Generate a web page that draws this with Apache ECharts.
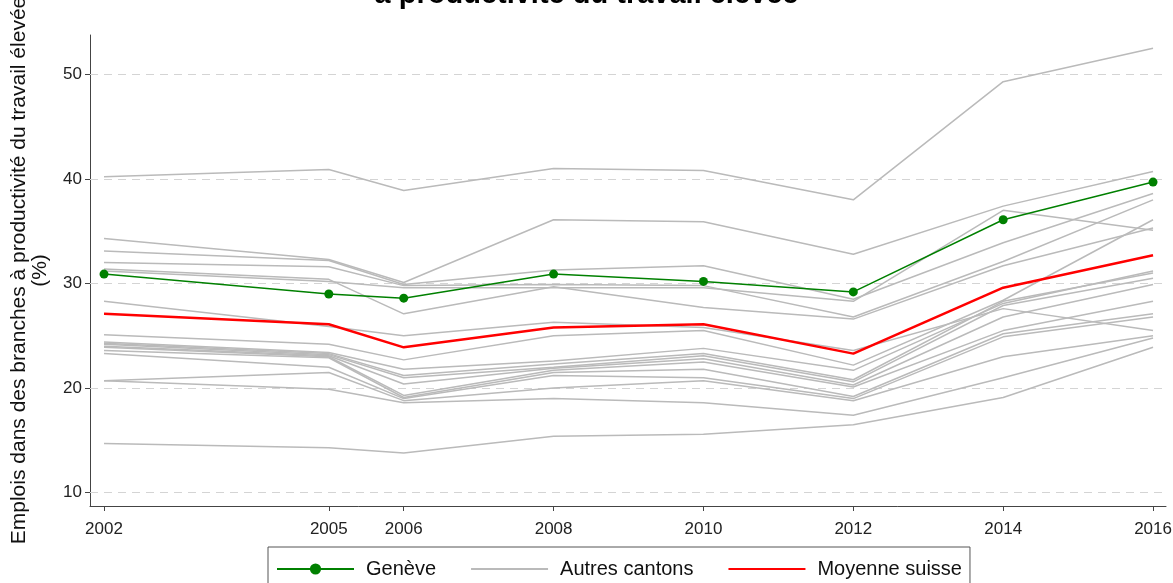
<!DOCTYPE html>
<html>
<head>
<meta charset="utf-8">
<script src="https://cdn.jsdelivr.net/npm/echarts@6/dist/echarts.min.js"></script>
<style>
html,body{margin:0;padding:0;background:#fff;}
#chart{width:1173px;height:583px;}
</style>
</head>
<body>
<div id="chart"></div>
<script>
// ---- data ----
const years = [2002, 2005, 2006, 2008, 2010, 2012, 2014, 2016];
const yTicks = [10, 20, 30, 40, 50];
const geneve  = [30.9, 29.0, 28.6, 30.9, 30.2, 29.2, 36.1, 39.7];
const moyenne = [27.1, 26.1, 23.9, 25.8, 26.1, 23.3, 29.6, 32.7];
const autresCantons = [
  [40.2, 40.9, 38.9, 41.0, 40.8, 38.0, 49.3, 52.5],
  [34.3, 32.3, 30.1, 36.1, 35.9, 32.8, 37.4, 40.7],
  [33.1, 32.2, 29.9, 31.3, 31.7, 28.5, 33.9, 38.6],
  [32.0, 31.6, 29.8, 29.9, 29.8, 26.8, 32.1, 38.0],
  [31.4, 30.4, 27.1, 29.7, 27.7, 26.6, 31.7, 35.3],
  [31.2, 30.2, 29.6, 29.6, 29.6, 28.3, 37.0, 35.1],
  [28.3, 25.9, 25.0, 26.3, 25.8, 23.6, 27.6, 25.5],
  [25.1, 24.2, 22.7, 25.0, 25.5, 22.2, 28.4, 36.1],
  [24.4, 23.4, 21.8, 22.6, 23.8, 21.7, 28.1, 31.2],
  [24.3, 23.3, 21.2, 22.3, 23.3, 20.8, 28.3, 31.0],
  [24.2, 23.2, 21.0, 22.0, 23.1, 20.6, 27.9, 30.5],
  [24.0, 23.1, 20.4, 21.9, 22.8, 20.3, 26.8, 29.9],
  [23.9, 23.0, 19.3, 21.7, 22.5, 20.1, 25.5, 28.3],
  [23.6, 22.9, 19.1, 21.5, 21.8, 19.2, 25.2, 27.1],
  [23.3, 22.0, 19.0, 21.2, 21.0, 19.0, 24.9, 26.8],
  [20.7, 21.5, 18.8, 20.0, 20.7, 18.8, 23.0, 25.0],
  [20.7, 19.9, 18.6, 19.0, 18.6, 17.4, 21.0, 24.8],
  [14.7, 14.3, 13.8, 15.4, 15.6, 16.5, 19.1, 23.9]
];
const titleText = 'à productivité du travail élevée';
const yName = 'Emplois dans des branches à productivité du travail élevée\n(%)';

// ---- chart ----
const chart = echarts.init(document.getElementById('chart'), null, {renderer: 'canvas'});
const pair = arr => years.map((y, i) => [y, arr[i]]);
const FONT = 'Liberation Sans, Arial, sans-serif';

const series = [];
autresCantons.forEach((arr, idx) => {
  series.push({
    name: 'Autres cantons', type: 'line', data: pair(arr),
    symbol: 'none', showSymbol: false, silent: true, z: 2,
    lineStyle: {color: '#bababa', width: 1.5},
    itemStyle: {color: '#bababa'},
    markLine: idx === 0 ? {
      silent: true, symbol: 'none', label: {show: false},
      lineStyle: {color: '#d4d4d4', type: [8, 6], width: 1},
      data: yTicks.map(v => ({yAxis: v})), z: 1
    } : undefined
  });
});
series.push({
  name: 'Moyenne suisse', type: 'line', data: pair(moyenne),
  symbol: 'none', showSymbol: false, z: 4,
  lineStyle: {color: '#ff0000', width: 2.5}, itemStyle: {color: '#ff0000'}
});
series.push({
  name: 'Genève', type: 'line', data: pair(geneve),
  symbol: 'circle', symbolSize: 9, showSymbol: true, z: 5,
  lineStyle: {color: '#008000', width: 1.5}, itemStyle: {color: '#008000'}
});

chart.setOption({
  animation: false,
  backgroundColor: '#ffffff',
  textStyle: {fontFamily: FONT},
  title: {
    text: titleText, left: 'center', top: -25,
    textStyle: {fontFamily: FONT, fontSize: 29, fontWeight: 'bold', color: '#000'}
  },
  grid: {left: 90, right: 7, top: 35, bottom: 77, containLabel: false, outerBoundsMode: 'none'},
  xAxis: {
    type: 'value', min: 2001.813, max: 2016.173,
    axisLine: {show: true, lineStyle: {color: '#444', width: 1}},
    axisTick: {show: true, length: 5, lineStyle: {color: '#444'}, customValues: years},
    axisLabel: {customValues: years, color: '#222', fontSize: 17, margin: 15, fontFamily: FONT,
                formatter: v => String(Math.round(v))},
    splitLine: {show: false}
  },
  yAxis: {
    type: 'value', min: 8.73, max: 53.76,
    name: yName, nameLocation: 'middle', nameGap: 39, nameRotate: 90,
    nameTextStyle: {fontFamily: FONT, fontSize: 21, color: '#111', lineHeight: 21},
    axisLine: {show: true, lineStyle: {color: '#444', width: 1}},
    axisTick: {show: true, length: 5, lineStyle: {color: '#444'}, customValues: yTicks},
    axisLabel: {customValues: yTicks, color: '#222', fontSize: 17, margin: 8, fontFamily: FONT},
    splitLine: {show: false}
  },
  legend: {
    data: [
      {name: 'Genève'},
      {name: 'Autres cantons', itemStyle: {opacity: 0}},
      {name: 'Moyenne suisse', itemStyle: {opacity: 0}}
    ],
    left: 268, top: 547,
    itemWidth: 77, itemHeight: 14, itemGap: 34,
    padding: [12, 8, 10, 8],
    borderColor: '#555', borderWidth: 1, borderRadius: 0,
    textStyle: {fontFamily: FONT, fontSize: 20, color: '#111', padding: [0, 0, 0, 7]},
    selectedMode: false
  },
  series: series
});
</script>
</body>
</html>
